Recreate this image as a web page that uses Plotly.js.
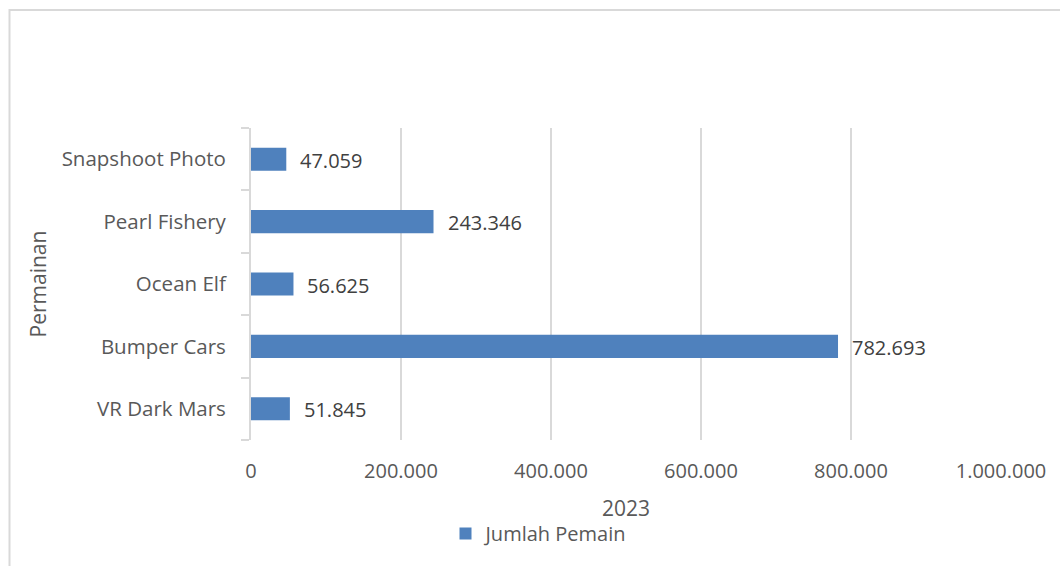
<!DOCTYPE html>
<html>
<head>
<meta charset="utf-8">
<script src="https://cdn.plot.ly/plotly-3.0.1.min.js"></script>
<style>html,body{margin:0;padding:0;background:#fff;}#chart{width:1060px;height:566px;}</style>
</head>
<body>
<div id="chart"></div>
<script>
const categories = ["VR Dark Mars", "Bumper Cars", "Ocean Elf", "Pearl Fishery", "Snapshoot Photo"];
const values = [51845, 782693, 56625, 243346, 47059];
const seriesName = "Jumlah Pemain";
const xTickVals = [0, 200000, 400000, 600000, 800000, 1000000];
const xTitle = "2023";
const yTitle = "Permainan";

const FONT = "Open Sans, Liberation Sans, Arial, sans-serif";
const fmt = v => String(v).replace(/\B(?=(\d{3})+(?!\d))/g, ".");
const data = [{
  type: "bar",
  orientation: "h",
  y: categories,
  x: values,
  name: seriesName,
  marker: {color: "#4f81bd"},
  width: 0.37,
  hoverinfo: "skip"
}];
const annotations = categories.map((c, i) => ({
  x: values[i], y: c, xref: "x", yref: "y",
  text: fmt(values[i]), showarrow: false,
  xanchor: "left", yanchor: "middle", xshift: 12, yshift: -1,
  font: {family: FONT, size: 20, color: "#404040"}
}));
const W = 750, H = 312, L = 251, T = 128;
const layout = {
  width: 1060, height: 566,
  margin: {l: 251, r: 59, t: 128, b: 126},
  separators: ",.",
  paper_bgcolor: "#fff", plot_bgcolor: "#fff",
  font: {family: FONT, color: "#595959", size: 20},
  showlegend: true,
  legend: {orientation: "h", x: 0.384, xanchor: "center", y: -0.30, yanchor: "middle",
           itemwidth: 30, font: {size: 20, color: "#595959"}},
  annotations: annotations,
  xaxis: {
    range: [0, 1000000], tickvals: xTickVals, tickformat: ",",
    showgrid: true, gridcolor: "#d9d9d9", gridwidth: 2, zeroline: false, showline: false,
    ticks: "outside", ticklen: 13, tickcolor: "rgba(0,0,0,0)",
    tickfont: {size: 20, color: "#595959"},
    title: {text: xTitle, font: {size: 21, color: "#595959"}, standoff: 18}
  },
  yaxis: {
    type: "category", showgrid: false, zeroline: false,
    showline: true, linecolor: "#d9d9d9", linewidth: 2,
    ticks: "outside", ticklen: 8, tickcolor: "#d9d9d9", tickwidth: 2, tickson: "boundaries",
    ticklabelstandoff: 19,
    tickfont: {size: 20.5, color: "#595959"},
    title: {text: yTitle, font: {size: 21, color: "#595959"}, standoff: 9}
  },
  shapes: [{
    type: "path", xref: "paper", yref: "paper",
    path: "M " + ((9.5 - L) / W) + "," + (-(566 + 10 - T - H) / H) +
          " L " + ((9.5 - L) / W) + "," + (1 + (T - 10) / H) +
          " L " + ((1070 - L) / W) + "," + (1 + (T - 10) / H),
    line: {color: "#d9d9d9", width: 2}
  }]
};
Plotly.newPlot("chart", data, layout, {displayModeBar: false, staticPlot: true});
</script>
</body>
</html>
